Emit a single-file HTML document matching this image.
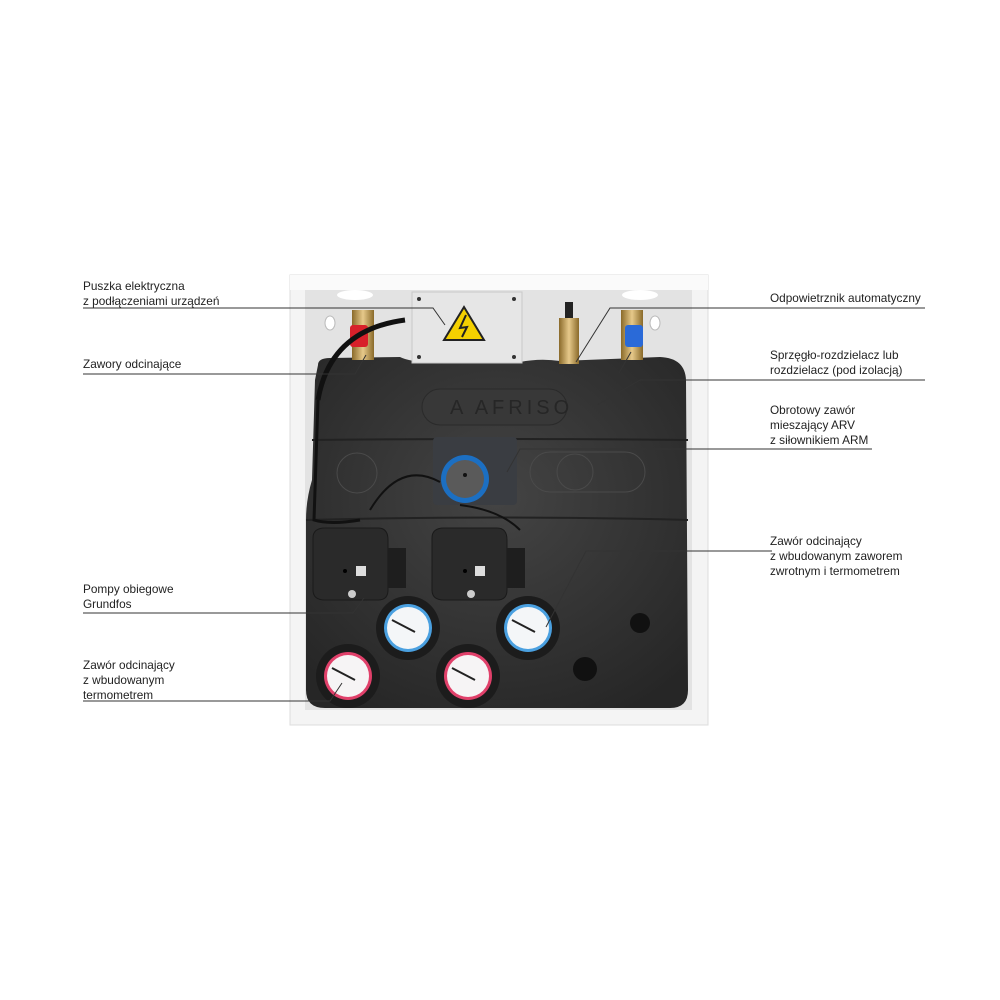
<!DOCTYPE html>
<html><head><meta charset="utf-8"><style>
html,body{margin:0;padding:0;background:#fff;}
body{width:1000px;height:1000px;position:relative;overflow:hidden;font-family:"Liberation Sans","DejaVu Sans",sans-serif;}
.t{position:absolute;font-size:11.8px;line-height:15px;color:#222;white-space:nowrap;}
svg{position:absolute;left:0;top:0;}
</style></head><body>
<svg width="1000" height="1000" viewBox="0 0 1000 1000">
<defs>
<radialGradient id="ins" cx="50%" cy="40%" r="70%"><stop offset="0" stop-color="#444"/><stop offset="1" stop-color="#262626"/></radialGradient>
<linearGradient id="brass" x1="0" x2="1"><stop offset="0" stop-color="#8a6a2a"/><stop offset=".5" stop-color="#e6c98a"/><stop offset="1" stop-color="#8a6a2a"/></linearGradient>
</defs>
<rect x="290" y="275" width="418" height="450" fill="#f4f4f4" stroke="#ddd"/>
<rect x="305" y="290" width="387" height="420" fill="#e3e3e3"/>
<rect x="290" y="275" width="418" height="15" fill="#fafafa"/>
<ellipse cx="355" cy="295" rx="18" ry="5" fill="#fff"/>
<ellipse cx="640" cy="295" rx="18" ry="5" fill="#fff"/>
<ellipse cx="330" cy="323" rx="5" ry="7" fill="#fff" stroke="#bbb"/>
<ellipse cx="655" cy="323" rx="5" ry="7" fill="#fff" stroke="#bbb"/>
<path d="M318 365 Q318 358 330 358 L400 357 Q410 362 430 362 L520 362 Q540 358 560 361 L660 357 Q685 358 686 380 L688 690 Q688 708 670 708 L325 708 Q306 708 306 690 L306 520 Q306 500 312 480 L315 380 Z" fill="url(#ins)"/>
<path d="M312 440 Q500 438 688 440" stroke="#222" stroke-width="2" fill="none"/>
<path d="M306 520 Q500 515 688 520" stroke="#222" stroke-width="2" fill="none"/>
<rect x="422" y="389" width="145" height="36" rx="18" fill="#383838" stroke="#2a2a2a"/>
<text x="450" y="414" font-family="Liberation Sans" font-size="20" fill="#262626" letter-spacing="4">A AFRISO</text>
<circle cx="357" cy="473" r="20" fill="none" stroke="#4a4a4a"/>
<rect x="530" y="452" width="115" height="40" rx="20" fill="none" stroke="#4a4a4a"/>
<circle cx="575" cy="472" r="18" fill="none" stroke="#4a4a4a"/>
<circle cx="640" cy="623" r="10" fill="#111"/>
<circle cx="585" cy="669" r="12" fill="#111"/>
<rect x="412" y="292" width="110" height="71" fill="#e6e6e6" stroke="#c8c8c8"/>
<circle cx="419" cy="299" r="2" fill="#333"/><circle cx="514" cy="299" r="2" fill="#333"/>
<circle cx="419" cy="357" r="2" fill="#333"/><circle cx="514" cy="357" r="2" fill="#333"/>
<polygon points="464,307 484,340 444,340" fill="#f4d000" stroke="#222" stroke-width="2"/>
<path d="M466 315 L460 328 L467 327 L462 337" stroke="#222" stroke-width="2" fill="none"/>
<rect x="352" y="310" width="22" height="50" fill="url(#brass)"/>
<rect x="350" y="325" width="18" height="22" rx="3" fill="#d8202a"/>
<rect x="621" y="310" width="22" height="50" fill="url(#brass)"/>
<rect x="625" y="325" width="18" height="22" rx="3" fill="#2a6ad8"/>
<rect x="559" y="318" width="20" height="46" fill="url(#brass)"/>
<rect x="565" y="302" width="8" height="16" fill="#222"/>
<path d="M405 320 Q330 330 318 400" stroke="#111" stroke-width="5" fill="none"/>
<path d="M318 400 L314 520 Q330 525 360 520" stroke="#111" stroke-width="3" fill="none"/>
<rect x="433" y="437" width="84" height="68" rx="4" fill="#3a3d42"/>
<circle cx="465" cy="479" r="24" fill="#1c6fc2"/>
<circle cx="465" cy="479" r="19" fill="#5a5a5a"/>
<circle cx="465" cy="475" r="2" fill="#111"/>
<path d="M440 482 Q400 460 370 510" stroke="#111" stroke-width="2" fill="none"/>
<path d="M460 505 Q500 510 520 530" stroke="#111" stroke-width="2" fill="none"/>
<g fill="#2a2a2a" stroke="#1a1a1a">
<path d="M313 538 Q313 528 325 528 L378 528 Q388 528 388 540 L388 590 Q388 600 378 600 L325 600 Q313 600 313 590 Z"/>
<path d="M432 538 Q432 528 444 528 L497 528 Q507 528 507 540 L507 590 Q507 600 497 600 L444 600 Q432 600 432 590 Z"/>
</g>
<rect x="388" y="548" width="18" height="40" fill="#1e1e1e"/>
<rect x="507" y="548" width="18" height="40" fill="#1e1e1e"/>
<circle cx="345" cy="571" r="2" fill="#000"/><circle cx="465" cy="571" r="2" fill="#000"/>
<rect x="356" y="566" width="10" height="10" fill="#ddd"/><rect x="475" y="566" width="10" height="10" fill="#ddd"/>
<circle cx="352" cy="594" r="4" fill="#ccc"/><circle cx="471" cy="594" r="4" fill="#ccc"/>
<g>
<circle cx="408" cy="628" r="32" fill="#1c1c1c"/><circle cx="408" cy="628" r="24" fill="#4aa0e0"/><circle cx="408" cy="628" r="21" fill="#f4f6f8"/>
<line x1="392" y1="620" x2="415" y2="632" stroke="#222" stroke-width="2"/>
<circle cx="528" cy="628" r="32" fill="#1c1c1c"/><circle cx="528" cy="628" r="24" fill="#4aa0e0"/><circle cx="528" cy="628" r="21" fill="#f4f6f8"/>
<line x1="512" y1="620" x2="535" y2="632" stroke="#222" stroke-width="2"/>
<circle cx="348" cy="676" r="32" fill="#1c1c1c"/><circle cx="348" cy="676" r="24" fill="#e0406a"/><circle cx="348" cy="676" r="21" fill="#f6f4f5"/>
<line x1="332" y1="668" x2="355" y2="680" stroke="#222" stroke-width="2"/>
<circle cx="468" cy="676" r="32" fill="#1c1c1c"/><circle cx="468" cy="676" r="24" fill="#e0406a"/><circle cx="468" cy="676" r="21" fill="#f6f4f5"/>
<line x1="452" y1="668" x2="475" y2="680" stroke="#222" stroke-width="2"/>
</g>
<g stroke="#333" stroke-width="1" fill="none">
<polyline points="83,308 433,308 445,325"/>
<polyline points="83,374 355,374 366,355"/>
<polyline points="619,373 631,352"/>
<polyline points="925,308 610,308 576,362"/>
<polyline points="925,380 640,380 597,405"/>
<polyline points="872,449 520,449 507,472"/>
<polyline points="772,551 586,551 546,627"/>
<polyline points="83,613 353,613 364,598"/>
<polyline points="83,701 330,701 342,683"/>
</g>
</svg>
<div class="t" style="left:83px;top:279px">Puszka elektryczna<br>z podłączeniami urządzeń</div>
<div class="t" style="left:83px;top:357px">Zawory odcinające</div>
<div class="t" style="left:770px;top:291px">Odpowietrznik automatyczny</div>
<div class="t" style="left:770px;top:348px">Sprzęgło-rozdzielacz lub<br>rozdzielacz (pod izolacją)</div>
<div class="t" style="left:770px;top:403px">Obrotowy zawór<br>mieszający ARV<br>z siłownikiem ARM</div>
<div class="t" style="left:770px;top:534px">Zawór odcinający<br>z wbudowanym zaworem<br>zwrotnym i termometrem</div>
<div class="t" style="left:83px;top:582px">Pompy obiegowe<br>Grundfos</div>
<div class="t" style="left:83px;top:658px">Zawór odcinający<br>z wbudowanym<br>termometrem</div>
</body></html>
